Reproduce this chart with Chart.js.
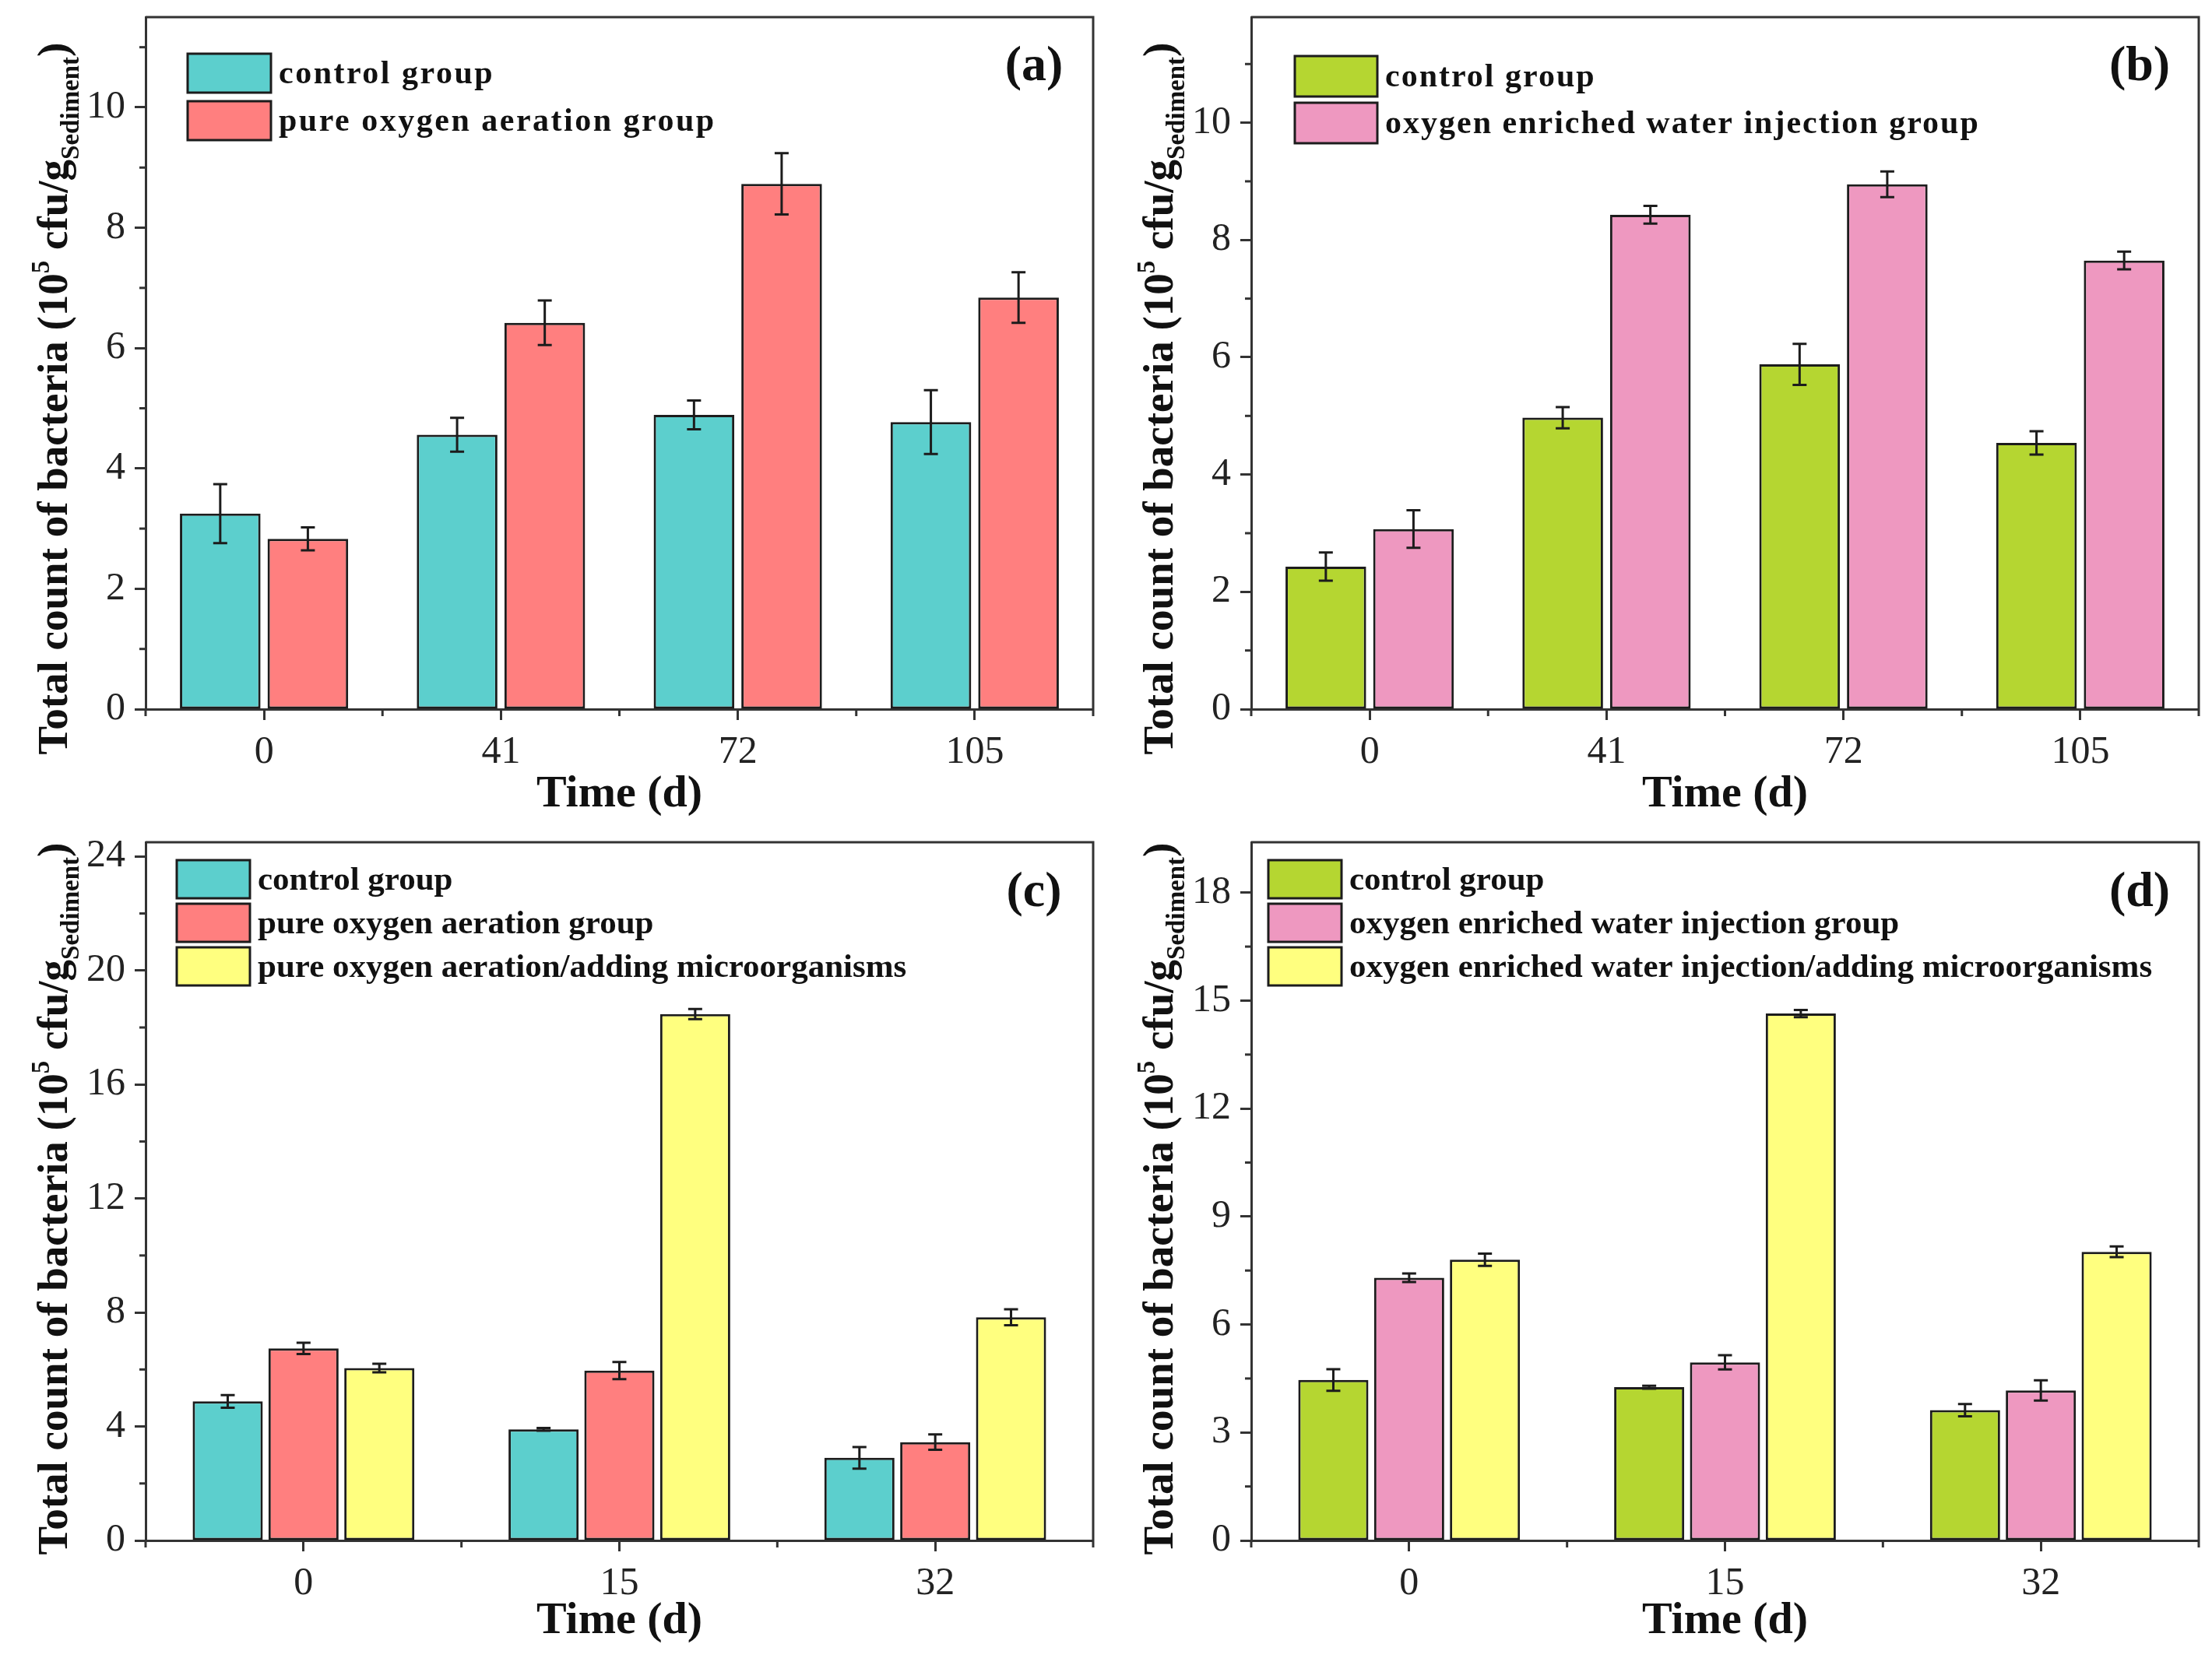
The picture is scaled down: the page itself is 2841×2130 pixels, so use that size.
<!DOCTYPE html>
<html><head><meta charset="utf-8">
<script src="https://cdn.jsdelivr.net/npm/chart.js@4.4.1/dist/chart.umd.min.js"></script>
<style>
html,body{margin:0;padding:0;background:#fff;}
body{width:2841px;height:2130px;position:relative;overflow:hidden;}
.p{position:absolute;width:1420px;height:1065px;}
</style></head><body>
<div class="p" style="left:0;top:0"><canvas id="ca" width="1420" height="1065"></canvas></div>
<div class="p" style="left:1420px;top:0"><canvas id="cb" width="1420" height="1065"></canvas></div>
<div class="p" style="left:0;top:1065px"><canvas id="cc" width="1420" height="1065"></canvas></div>
<div class="p" style="left:1420px;top:1065px"><canvas id="cd" width="1420" height="1065"></canvas></div>
<script>
// ---------- data ----------
const timesAB = ['0', '41', '72', '105'];
const timesCD = ['0', '15', '32'];

const aControl = [3.25, 4.56, 4.89, 4.77];
const aControlErr = [0.49, 0.28, 0.24, 0.53];
const aPureO2 = [2.83, 6.42, 8.73, 6.84];
const aPureO2Err = [0.19, 0.37, 0.51, 0.42];

const bControl = [2.43, 4.97, 5.88, 4.54];
const bControlErr = [0.24, 0.18, 0.35, 0.20];
const bWater = [3.07, 8.43, 8.95, 7.65];
const bWaterErr = [0.32, 0.15, 0.22, 0.15];

const cControl = [4.88, 3.90, 2.90];
const cControlErr = [0.22, 0.05, 0.38];
const cPureO2 = [6.74, 5.96, 3.45];
const cPureO2Err = [0.20, 0.30, 0.27];
const cPureO2Micro = [6.05, 18.47, 7.83];
const cPureO2MicroErr = [0.15, 0.18, 0.28];

const dControl = [4.46, 4.26, 3.62];
const dControlErr = [0.30, 0.04, 0.17];
const dWater = [7.30, 4.95, 4.17];
const dWaterErr = [0.12, 0.20, 0.28];
const dWaterMicro = [7.80, 14.64, 8.02];
const dWaterMicroErr = [0.17, 0.10, 0.15];

const labControl = 'control group';
const labPureO2 = 'pure oxygen aeration group';
const labPureO2Micro = 'pure oxygen aeration/adding microorganisms';
const labWater = 'oxygen enriched water injection group';
const labWaterMicro = 'oxygen enriched water injection/adding microorganisms';

const yMaxes = [11.5, 11.8, 24.5, 19.4];
const ySteps = [2, 2, 4, 3];
const panelTags = ['(a)', '(b)', '(c)', '(d)'];
const xTitle = 'Time (d)';

// ---------- style ----------
const SERIF = "'Liberation Serif', 'Times New Roman', serif";
const INK = '#1c1c1c';
const CYAN = '#5ccfcd', SALMON = '#ff7f7f', GREEN = '#b5d631', PINK = '#ee98c0', YELLOW = '#ffff7f';

const decor = {
  id: 'decor',
  afterDatasetsDraw(chart) {
    const ctx = chart.ctx, ys = chart.scales.y;
    ctx.save();
    ctx.strokeStyle = INK; ctx.lineWidth = 3;
    chart.data.datasets.forEach((ds, di) => {
      const meta = chart.getDatasetMeta(di);
      meta.data.forEach((bar, i) => {
        const v = ds.data[i], e = ds.errorBars[i];
        const yt = ys.getPixelForValue(v + e), yb = ys.getPixelForValue(v - e);
        const cap = 9;
        ctx.beginPath();
        ctx.moveTo(bar.x, yt); ctx.lineTo(bar.x, yb);
        ctx.moveTo(bar.x - cap, yt); ctx.lineTo(bar.x + cap, yt);
        ctx.moveTo(bar.x - cap, yb); ctx.lineTo(bar.x + cap, yb);
        ctx.stroke();
      });
    });
    ctx.restore();
  },
  afterDraw(chart, args, o) {
    const ctx = chart.ctx, ca = chart.chartArea, xs = chart.scales.x, ys = chart.scales.y;
    ctx.save();
    // frame top/right
    ctx.strokeStyle = '#333'; ctx.lineWidth = 3;
    ctx.beginPath();
    ctx.moveTo(ca.left, ca.top); ctx.lineTo(ca.right, ca.top); ctx.lineTo(ca.right, ca.bottom);
    ctx.stroke();
    // minor y ticks
    for (let v = o.minor; v <= ys.max + 1e-9; v += 2 * o.minor) {
      const py = ys.getPixelForValue(v);
      ctx.beginPath(); ctx.moveTo(ca.left - 8, py); ctx.lineTo(ca.left, py); ctx.stroke();
    }
    // minor x ticks at category boundaries
    const n = chart.data.labels.length;
    for (let i = 0; i <= n; i++) {
      const px = xs.getPixelForValue(i - 0.5);
      ctx.beginPath(); ctx.moveTo(px, ca.bottom); ctx.lineTo(px, ca.bottom + 9); ctx.stroke();
    }
    // legend
    ctx.textBaseline = 'middle'; ctx.textAlign = 'left';
    ctx.font = 'bold ' + o.legFont + 'px ' + SERIF;
    if ('letterSpacing' in ctx) ctx.letterSpacing = o.legSpacing + 'px';
    chart.data.datasets.forEach((ds, i) => {
      const bx = o.legX, by = o.legY + i * o.legRow;
      ctx.fillStyle = ds.backgroundColor;
      ctx.fillRect(bx, by, o.legW, o.legH);
      ctx.strokeStyle = INK; ctx.lineWidth = 3;
      ctx.strokeRect(bx, by, o.legW, o.legH);
      ctx.fillStyle = '#111';
      ctx.fillText(ds.label, bx + o.legW + 10, by + o.legH / 2 + 2);
    });
    if ('letterSpacing' in ctx) ctx.letterSpacing = '0px';
    // panel tag
    ctx.font = 'bold 64px ' + SERIF;
    ctx.textAlign = 'center';
    ctx.fillStyle = '#111';
    ctx.fillText(o.tag, ca.right - 76, o.tagY);
    // x title
    ctx.font = 'bold 58px ' + SERIF;
    ctx.textBaseline = 'alphabetic';
    ctx.fillText(xTitle, (ca.left + ca.right) / 2, o.xTitleY);
    // y title with superscript / subscript
    const S = 55;
    const runs = [
      { t: 'Total count of bacteria (10', s: 1, dy: 0 },
      { t: '5', s: 0.6, dy: -0.42 },
      { t: ' cfu/g', s: 1, dy: 0 },
      { t: 'Sediment', s: 0.6, dy: 0.28 },
      { t: ')', s: 1, dy: 0 }
    ];
    let total = 0;
    runs.forEach(r => { ctx.font = 'bold ' + (S * r.s) + 'px ' + SERIF; r.w = ctx.measureText(r.t).width; total += r.w; });
    ctx.translate(o.yTitleX, o.yTitleY);
    ctx.rotate(-Math.PI / 2);
    ctx.textAlign = 'left';
    let cx = -total / 2;
    runs.forEach(r => {
      ctx.font = 'bold ' + (S * r.s) + 'px ' + SERIF;
      ctx.fillText(r.t, cx, r.dy * S);
      cx += r.w;
    });
    ctx.restore();
  }
};

function build(id, labels, datasets, idx, geo) {
  const nb = datasets.length;
  return new Chart(document.getElementById(id), {
    type: 'bar',
    data: {
      labels: labels,
      datasets: datasets.map(d => ({
        label: d.label, data: d.data, errorBars: d.err,
        backgroundColor: d.color, borderColor: INK, borderWidth: 3, borderSkipped: false,
        categoryPercentage: nb === 2 ? 0.74 : 0.72,
        barPercentage: nb === 2 ? 0.92 : 0.925
      }))
    },
    options: {
      responsive: false, animation: false, devicePixelRatio: 1,
      layout: { padding: { left: 0, right: 16, top: geo.top, bottom: 0 } },
      plugins: {
        legend: { display: false }, tooltip: { enabled: false },
        decor: Object.assign({ tag: panelTags[idx], minor: ySteps[idx] / 2 }, geo)
      },
      scales: {
        x: {
          type: 'category', offset: true,
          grid: { offset: false, drawOnChartArea: false, drawTicks: true, tickLength: 14, tickWidth: 3, tickColor: '#333' },
          border: { display: true, color: '#333', width: 3 },
          ticks: { color: '#222', font: { family: SERIF, size: 50 }, padding: 12, maxRotation: 0 },
          afterFit: s => { s.height = geo.xh; s.paddingLeft = 0; s.paddingRight = 0; }
        },
        y: {
          min: 0, max: yMaxes[idx],
          grid: { drawOnChartArea: false, drawTicks: true, tickLength: 14, tickWidth: 3, tickColor: '#333' },
          border: { display: true, color: '#333', width: 3 },
          ticks: { stepSize: ySteps[idx], includeBounds: false, color: '#222', font: { family: SERIF, size: 50 }, padding: 12 },
          afterFit: s => { s.width = 187; s.paddingTop = 0; s.paddingBottom = 0; }
        }
      }
    },
    plugins: [decor]
  });
}

build('ca', timesAB, [
  { label: labControl, data: aControl, err: aControlErr, color: CYAN },
  { label: labPureO2, data: aPureO2, err: aPureO2Err, color: SALMON }
], 0, { top: 22, xh: 154, legX: 241, legY: 69, legW: 107, legH: 50, legRow: 61, legFont: 42, legSpacing: 2.5, tagY: 86, xTitleY: 1036, yTitleX: 86, yTitleY: 512 });

build('cb', timesAB, [
  { label: labControl, data: bControl, err: bControlErr, color: GREEN },
  { label: labWater, data: bWater, err: bWaterErr, color: PINK }
], 1, { top: 22, xh: 154, legX: 243, legY: 72, legW: 106, legH: 52, legRow: 60, legFont: 42, legSpacing: 2, tagY: 86, xTitleY: 1036, yTitleX: 86, yTitleY: 512 });

build('cc', timesCD, [
  { label: labControl, data: cControl, err: cControlErr, color: CYAN },
  { label: labPureO2, data: cPureO2, err: cPureO2Err, color: SALMON },
  { label: labPureO2Micro, data: cPureO2Micro, err: cPureO2MicroErr, color: YELLOW }
], 2, { top: 17, xh: 151, legX: 227, legY: 40, legW: 94, legH: 49, legRow: 56, legFont: 43, legSpacing: 0, tagY: 82, xTitleY: 1033, yTitleX: 86, yTitleY: 475 });

build('cd', timesCD, [
  { label: labControl, data: dControl, err: dControlErr, color: GREEN },
  { label: labWater, data: dWater, err: dWaterErr, color: PINK },
  { label: labWaterMicro, data: dWaterMicro, err: dWaterMicroErr, color: YELLOW }
], 3, { top: 17, xh: 151, legX: 209, legY: 40, legW: 94, legH: 49, legRow: 56, legFont: 43, legSpacing: 0, tagY: 82, xTitleY: 1033, yTitleX: 86, yTitleY: 475 });
</script>
</body></html>
